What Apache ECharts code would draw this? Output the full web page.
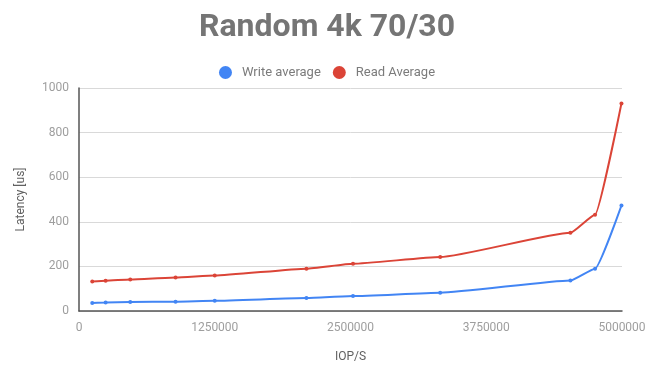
<!DOCTYPE html>
<html>
<head>
<meta charset="utf-8">
<script src="https://cdn.jsdelivr.net/npm/echarts@6/dist/echarts.min.js"></script>
<style>
  html, body { margin: 0; padding: 0; background: #fff; }
  #chart { width: 654px; height: 377px; }
</style>
</head>
<body>
<div id="chart"></div>
<script>
// data
const iops = [122000, 245000, 472000, 889000, 1250000, 2094000, 2523000, 3326000, 4525000, 4752000, 4995000];
const writeAvg = [36, 38, 40, 42, 46, 58, 67, 82, 137, 190, 473];
const readAvg = [132, 136, 141, 150, 159, 190, 212, 242, 351, 432, 931];
const xTicks = [0, 1250000, 2500000, 3750000, 5000000];

const pairs = (ys) => iops.map((x, i) => [x, ys[i]]);

const chart = echarts.init(document.getElementById('chart'));
const labelColor = '#9e9e9e';

const option = {
  backgroundColor: '#fff',
  animation: false,
  color: ['#4285F4', '#DB4437'],
  title: {
    text: 'Random 4k 70/30',
    left: 'center',
    top: 7,
    textStyle: { fontFamily: 'Roboto', fontWeight: 'bold', fontSize: 32, color: '#757575' }
  },
  legend: {
    top: 61,
    left: 'center',
    icon: 'circle',
    itemWidth: 13,
    itemHeight: 13,
    itemGap: 12,
    textStyle: { fontFamily: 'Roboto', fontSize: 13, color: '#7b7b7b', padding: [0, 0, 0, 5] }
  },
  grid: { left: 79, right: 32, top: 88, bottom: 66 },
  xAxis: {
    type: 'value',
    min: 0,
    max: 5000000,
    interval: 1250000,
    name: 'IOP/S',
    nameLocation: 'middle',
    nameGap: 40,
    nameTextStyle: { fontFamily: 'Roboto', fontSize: 12, color: '#616161' },
    axisLine: { lineStyle: { color: '#555', width: 1.5 } },
    axisTick: { show: false },
    splitLine: { show: false },
    axisLabel: { fontFamily: 'Roboto', fontSize: 12, color: labelColor, margin: 11,
      formatter: (v) => xTicks.includes(v) ? String(v) : '' }
  },
  yAxis: {
    type: 'value',
    min: 0,
    max: 1000,
    interval: 200,
    name: 'Latency [us]',
    nameLocation: 'middle',
    nameGap: 52,
    nameTextStyle: { fontFamily: 'Roboto', fontSize: 12, color: '#616161' },
    axisLine: { show: true, lineStyle: { color: '#555', width: 1.5 } },
    axisTick: { show: false },
    splitLine: { lineStyle: { color: '#d9d9d9' } },
    axisLabel: { fontFamily: 'Roboto', fontSize: 12, color: labelColor, margin: 10,
      formatter: (v) => String(v) }
  },
  series: [
    {
      name: 'Write average',
      type: 'line',
      data: pairs(writeAvg),
      smooth: 0.15,
      smoothMonotone: 'x',
      symbol: 'circle',
      symbolSize: 4,
      lineStyle: { width: 2 }
    },
    {
      name: 'Read Average',
      type: 'line',
      data: pairs(readAvg),
      smooth: 0.15,
      smoothMonotone: 'x',
      symbol: 'circle',
      symbolSize: 4,
      lineStyle: { width: 2 }
    }
  ]
};

chart.setOption(option);
</script>
</body>
</html>
